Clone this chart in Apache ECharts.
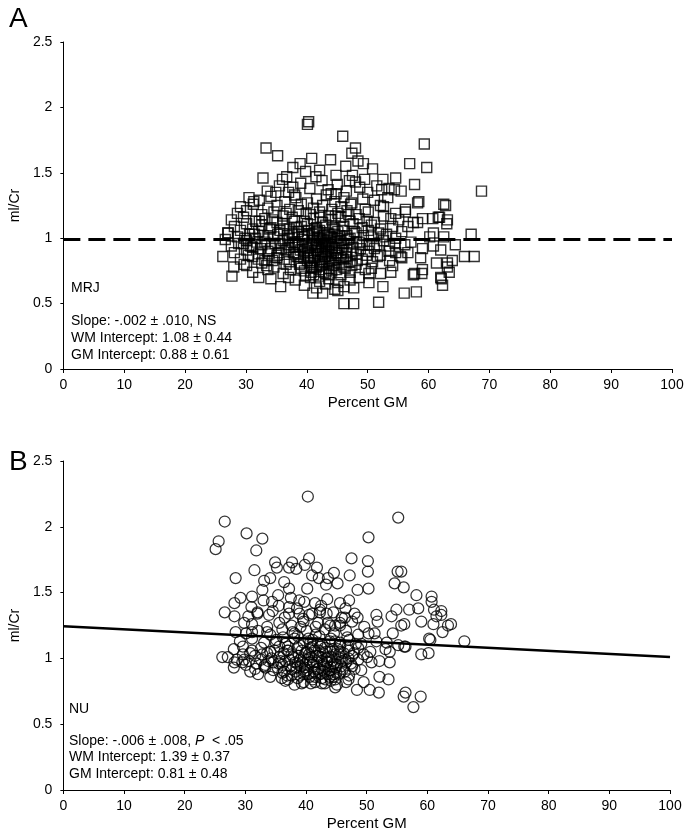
<!DOCTYPE html>
<html><head><meta charset="utf-8">
<script src="https://cdn.jsdelivr.net/npm/echarts@6/dist/echarts.min.js"></script>
<style>html,body{margin:0;padding:0;background:#fff}#c{width:695px;height:838px}</style>
</head><body><div id="c"></div>
<script>
// Panel A (MRJ) points: [Percent GM, mI/Cr]
var mrjPoints = [
[40.3,1.89],[40.1,1.87],[45.9,1.78],[59.3,1.72],[33.3,1.69],[35.2,1.63],[48.0,1.69],[47.4,1.65],[56.9,1.57],[59.7,1.54],
[32.8,1.46],[43.9,1.60],[40.8,1.61],[38.9,1.57],[42.1,1.52],[39.8,1.51],[37.7,1.54],[44.8,1.48],[46.4,1.55],[48.4,1.59],
[49.3,1.57],[50.8,1.53],[52.5,1.45],[54.6,1.46],[57.7,1.41],[62.5,1.26],[58.4,1.28],[36.7,1.47],[37.7,1.39],[47.0,1.44],
[48.7,1.39],[52.3,1.37],[54.4,1.37],[44.8,1.34],[34.9,1.35],[31.3,1.28],[68.7,1.36],[56.2,1.20],[59.0,1.15],[60.7,1.15],
[61.8,1.16],[63.0,1.11],[67.0,1.03],[64.4,0.95],[65.9,0.86],[67.5,0.86],[63.9,0.83],[63.4,0.74],[62.1,0.69],[62.3,0.64],
[58.9,0.73],[57.7,0.73],[56.0,0.58],[58.0,0.59],[61.3,0.81],[63.1,0.81],[60.8,0.94],[60.8,1.04],[60.2,1.01],[59.0,0.92],
[56.6,0.89],[56.6,1.09],[57.5,1.12],[46.1,0.50],[47.7,0.50],[51.8,0.51],[52.5,0.63],[35.7,0.63],[26.2,0.86],[27.7,0.71],
[27.0,1.04],[28.0,0.78],[29.7,0.80],[32.1,0.70],[37.0,0.70],[41.0,0.58],[42.6,0.58],[45.1,0.60],[47.7,0.62],[50.2,0.66],
[50.2,0.73],[53.8,0.74],[57.5,0.72],[59.0,0.76],[62.0,0.70],[63.1,0.78],[58.7,0.85],[55.4,0.86],[62.0,0.91],[62.5,1.01],
[61.6,1.16],[63.1,1.14],[58.2,1.12],[53.8,1.15],[56.2,1.22],[58.2,1.27],[62.8,1.25],[52.6,1.24],
[33.5,1.36],[35.5,1.40],[37.0,1.35],[39.0,1.42],[40.5,1.38],[42.5,1.44],[43.5,1.37],[45.0,1.41],[46.5,1.36],[48.0,1.43],
[50.0,1.35],[51.5,1.40],[53.5,1.38],[55.5,1.36],[36.0,1.45],[41.5,1.47],[38.0,1.33],[44.0,1.34],[47.5,1.48],[49.5,1.45],
[30.5,1.31],[32.2,1.29],[34.1,1.32],[36.4,1.28],[38.2,1.31],[40.1,1.27],[41.6,1.30],[43.2,1.33],[44.6,1.28],[46.1,1.31],
[47.4,1.27],[49.2,1.30],[51.1,1.29],[53.3,1.31],[29.1,1.24],[31.2,1.26],[33.6,1.23],[35.1,1.25],[37.2,1.22],[39.1,1.26],
[41.1,1.23],[42.6,1.25],[44.1,1.22],[45.6,1.24],[47.2,1.26],[49.6,1.22],[52.1,1.25],[28.6,1.19],[30.1,1.21],[32.6,1.18],
[34.6,1.20],[36.1,1.17],[38.6,1.21],[40.6,1.18],[42.1,1.20],[43.6,1.17],[45.1,1.19],[46.6,1.21],[48.1,1.18],[50.1,1.20],
[52.6,1.17],[54.6,1.19],[27.6,1.14],[29.6,1.16],[31.6,1.13],[33.1,1.15],[35.1,1.12],[37.6,1.16],[39.6,1.13],[41.1,1.15],
[42.6,1.12],[44.1,1.14],[45.6,1.16],[47.1,1.13],[48.6,1.15],[51.1,1.12],[55.1,1.14],[28.1,1.09],[30.1,1.11],[31.1,1.07],
[32.6,1.10],[34.1,1.08],[36.1,1.11],[37.1,1.07],[39.1,1.09],[40.1,1.11],[41.6,1.08],[43.1,1.10],[44.6,1.07],[46.1,1.09],
[47.6,1.11],[49.1,1.08],[50.6,1.10],[52.1,1.07],[54.1,1.09],[27.1,1.04],[29.1,1.06],[30.6,1.03],[32.1,1.05],[33.6,1.02],
[35.6,1.06],[37.6,1.03],[38.6,1.05],[40.1,1.02],[41.1,1.04],[42.1,1.06],[43.6,1.03],[45.1,1.05],[46.6,1.02],[48.1,1.04],
[50.1,1.06],[53.1,1.03],[55.6,1.05],[26.6,0.99],[28.6,1.01],[30.1,0.98],[31.6,1.00],[33.1,0.97],[34.6,1.01],[36.1,0.98],
[37.1,1.00],[38.1,0.97],[39.6,1.01],[41.1,0.98],[42.1,1.00],[43.1,0.97],[44.1,1.01],[45.6,0.98],[47.1,1.00],[48.6,0.97],
[50.6,1.01],[52.6,0.98],[54.6,1.00],[57.1,0.97],[27.6,0.94],[29.6,0.96],[31.1,0.93],[32.6,0.95],[34.1,0.92],[35.6,0.96],
[37.1,0.93],[38.6,0.95],[40.1,0.92],[41.6,0.96],[42.6,0.93],[43.6,0.95],[44.6,0.92],[46.1,0.96],[47.6,0.93],[49.1,0.95],
[51.1,0.92],[53.6,0.94],[56.1,0.95],[28.1,0.89],[30.1,0.91],[32.1,0.88],[33.6,0.90],[35.1,0.87],[36.6,0.91],[38.1,0.88],
[39.6,0.90],[40.6,0.87],[41.6,0.91],[42.6,0.88],[43.6,0.90],[45.1,0.87],[46.6,0.91],[48.1,0.88],[50.1,0.90],[52.1,0.87],
[54.6,0.89],[29.1,0.84],[31.1,0.86],[33.1,0.83],[35.1,0.85],[37.1,0.82],[38.6,0.86],[40.1,0.83],[41.1,0.85],[42.1,0.82],
[43.1,0.86],[44.1,0.83],[45.6,0.85],[47.1,0.82],[49.1,0.84],[51.6,0.86],[53.6,0.83],[55.6,0.85],[30.1,0.79],[32.6,0.81],
[34.6,0.78],[36.6,0.80],[39.1,0.77],[40.6,0.81],[41.6,0.78],[42.6,0.80],[43.6,0.77],[44.6,0.81],[46.1,0.78],[48.1,0.80],
[50.6,0.77],[54.1,0.79],[31.1,0.74],[33.6,0.76],[36.1,0.73],[39.6,0.75],[41.1,0.72],[42.1,0.76],[43.1,0.73],[44.1,0.75],
[45.6,0.72],[47.1,0.74],[49.6,0.76],[52.1,0.73],[34.1,0.69],[38.1,0.68],[40.6,0.70],[42.1,0.67],[43.6,0.69],[45.1,0.66],
[47.1,0.68],[48.6,0.70],[39.6,0.64],[41.6,0.62],[43.1,0.65],[44.6,0.61],[46.1,0.63],
[40.8,0.95],[41.8,0.88],[42.8,1.02],[43.8,0.84],[44.8,0.97],[45.8,0.91],[41.3,1.07],[42.3,0.79],[43.3,0.92],[44.3,1.08],
[45.3,0.81],[40.3,0.86],[39.3,0.99],[42.9,0.86],[43.9,1.01],[41.9,0.93],[44.9,0.89],[40.9,1.03],[42.4,0.96],[43.4,0.98],
[45.4,1.02],[46.4,0.86],[38.9,0.91],[37.9,1.04],[36.9,0.95],[35.4,0.89],[33.9,1.07],[32.4,0.92],[31.4,1.03],[30.4,0.87],
[36.3,0.84],[36.8,1.02],[37.3,0.76],[37.8,0.89],[38.3,1.08],[38.8,0.80],[39.3,0.94],[39.8,0.71],[40.3,1.06],[40.8,0.78],
[41.3,0.83],[41.8,1.01],[42.3,0.90],[42.8,0.74],[43.3,1.04],[43.8,0.95],[44.3,0.79],[44.8,0.85],[45.3,0.93],[45.8,1.06],
[46.3,0.77],[46.8,0.99],[47.3,0.88],[47.8,1.05],[48.3,0.83],[48.8,0.92],[49.3,1.02],[49.8,0.87],[50.3,0.95],[50.8,0.82],
[37.6,0.97],[38.4,0.86],[39.2,1.03],[40.0,0.96],[40.7,0.74],[41.4,0.94],[42.0,0.71],[42.7,0.99],[43.5,0.82],[44.2,0.93],
[44.9,0.76],[45.7,0.96],[46.5,0.89],[47.4,0.79],[48.2,0.97],[39.0,0.81],[40.2,0.89],[41.0,0.77],[42.9,0.94],[43.7,0.72],
[44.0,0.88],[45.0,1.00],[46.0,0.84],[41.7,1.05],[42.5,0.84],[43.1,0.89],[44.6,1.03],[40.5,0.93],[39.5,0.85],[38.0,0.93],
[35.8,0.92],[34.8,0.96],[33.8,0.88],[32.8,1.02],[31.8,0.97],[30.8,0.94],[29.8,1.00],[28.8,0.96],[36.2,1.07],[35.2,1.03],
[34.4,0.83],[33.4,0.79],[32.0,0.84],[51.5,0.95],[52.5,1.01],[53.5,0.90],[54.5,0.96],[51.8,1.04],[49.9,1.13],[46.9,1.18],
[44.7,1.17],[42.2,1.16],[39.9,1.19],[38.0,1.13],[36.6,1.19],[34.4,1.14],[32.2,1.13]
];
// Panel B (NU) points
var nuPoints = [
[40.3,2.23],[26.6,2.04],[25.6,1.89],[25.1,1.83],[30.2,1.95],[32.8,1.91],[31.8,1.82],[55.2,2.07],[50.3,1.92],[47.5,1.76],
[50.2,1.74],[50.2,1.66],[47.2,1.63],[50.3,1.53],[48.5,1.52],[31.5,1.67],[28.4,1.61],[34.9,1.73],[35.2,1.69],[37.7,1.73],
[37.2,1.69],[38.4,1.68],[40.5,1.76],[39.8,1.71],[41.8,1.69],[41.0,1.63],[42.1,1.61],[44.6,1.65],[43.6,1.61],[45.2,1.57],
[43.3,1.56],[40.2,1.53],[36.4,1.58],[33.1,1.59],[34.1,1.61],[32.8,1.52],[37.2,1.53],[35.4,1.48],[29.2,1.46],[28.2,1.42],
[31.1,1.47],[34.4,1.43],[38.9,1.44],[39.7,1.43],[37.2,1.39],[45.6,1.42],[47.1,1.44],[26.6,1.35],[28.2,1.32],[32.0,1.34],
[33.9,1.33],[38.9,1.34],[42.3,1.37],[43.4,1.34],[45.9,1.31],[48.0,1.34],[51.6,1.33],[54.1,1.32],[54.9,1.37],[54.6,1.57],
[55.1,1.66],[55.7,1.66],[56.1,1.54],[58.2,1.48],[60.7,1.47],[60.7,1.43],[57.0,1.37],[58.5,1.38],[62.3,1.36],[61.5,1.32],
[56.2,1.26],[59.0,1.28],[61.0,1.26],[63.9,1.26],[62.5,1.20],[60.5,1.14],[66.1,1.13],[56.4,1.09],[59.0,1.03],[60.2,1.04],
[56.4,0.74],[56.1,0.71],[58.9,0.71],[57.7,0.63],[26.2,1.01],[28.2,0.97],[29.5,0.97],[30.8,0.90],[33.3,0.93],[36.9,0.87],
[39.3,0.81],[41.5,0.82],[43.1,0.81],[44.8,0.78],[47.0,0.84],[48.4,0.76],[50.5,0.76],[52.0,0.74],[52.1,0.86],[53.6,0.84],
[49.5,0.82],[53.8,0.97],[53.8,1.05],[60.3,1.15],[55.2,1.10],[56.2,1.09],[51.3,1.19],[50.3,1.19],[53.3,1.12],[51.8,1.28],
[55.7,1.25],[54.3,1.19],[61.1,1.37],[62.3,1.33],[63.4,1.25],[45.6,1.27],[46.4,1.31],[44.8,1.25],[41.0,1.34],[42.3,1.35],
[37.2,1.34],[32.0,1.35],[29.8,1.27],[28.4,1.20],[31.1,1.20],[33.6,1.20],
[30.5,1.32],[34.5,1.36],[36.5,1.31],[38.5,1.38],[40.5,1.33],[42.5,1.40],[44.5,1.35],[46.5,1.38],[48.5,1.31],[39.5,1.30],
[35.5,1.40],[43.5,1.45],[41.5,1.42],[37.5,1.46],[33.0,1.44],[31.0,1.39],
[27.1,1.01],[28.6,0.99],[29.6,1.03],[30.6,0.98],[31.6,1.02],[32.6,0.99],[33.6,1.04],[34.6,0.97],[35.6,1.01],[36.6,0.98],
[37.6,1.03],[38.6,0.96],[39.6,1.00],[40.6,0.97],[41.6,1.02],[42.6,0.98],[43.6,1.01],[44.6,0.96],[45.6,1.00],[46.6,0.97],
[47.6,1.02],[48.6,0.99],[50.1,1.01],[52.1,0.98],[28.1,1.07],[29.6,1.09],[31.1,1.06],[32.6,1.08],[34.1,1.05],[35.6,1.09],
[37.1,1.06],[38.6,1.08],[40.1,1.05],[41.1,1.09],[42.1,1.06],[43.1,1.08],[44.1,1.05],[45.6,1.09],[47.1,1.06],[48.6,1.08],
[50.6,1.05],[53.1,1.07],[29.1,1.13],[31.1,1.15],[33.1,1.12],[35.1,1.14],[36.6,1.11],[38.1,1.15],[39.6,1.12],[41.1,1.14],
[42.6,1.11],[44.1,1.15],[45.6,1.12],[47.1,1.14],[49.1,1.11],[51.6,1.13],[30.1,1.19],[32.1,1.21],[34.1,1.18],[36.1,1.22],
[38.1,1.19],[40.1,1.21],[41.6,1.18],[43.1,1.22],[44.6,1.19],[46.6,1.21],[48.6,1.18],[31.1,1.26],[33.6,1.24],[35.6,1.27],
[37.6,1.25],[39.6,1.28],[41.6,1.24],[43.6,1.27],[45.6,1.25],[47.6,1.28],[49.6,1.24],[28.1,0.93],[30.1,0.95],[31.6,0.92],
[33.1,0.94],[34.6,0.91],[36.1,0.95],[37.6,0.92],[39.1,0.94],[40.1,0.91],[41.1,0.95],[42.1,0.92],[43.1,0.94],[44.1,0.91],
[45.1,0.95],[46.1,0.92],[47.6,0.94],[49.1,0.91],[32.1,0.88],[34.1,0.86],[36.1,0.89],[37.6,0.87],[38.6,0.85],[39.6,0.88],
[40.6,0.86],[41.6,0.89],[42.6,0.85],[43.6,0.88],[44.6,0.86],[45.6,0.89],[47.1,0.87],[36.6,0.83],[38.1,0.80],[39.6,0.82],
[41.1,0.84],[42.6,0.81],[44.1,0.83],[45.1,0.80],[46.6,0.82],
[38.8,1.02],[39.8,0.93],[40.8,1.08],[41.8,0.97],[42.8,1.04],[43.8,0.91],[44.8,1.03],[45.8,0.94],[40.3,0.99],[41.3,0.90],
[42.3,1.01],[43.3,1.05],[44.3,0.98],[39.3,1.06],[38.3,0.90],[37.3,0.99],[36.3,1.04],[35.3,0.93],[34.3,1.00],[33.3,0.95],
[41.9,1.12],[43.9,1.13],[40.4,1.15],[45.2,1.07],[46.2,1.04],[42.4,0.88],[44.5,0.88],[39.0,0.87],[37.0,1.09],[35.0,1.12],
[35.8,0.98],[36.4,0.90],[36.9,1.06],[37.4,0.94],[37.9,1.01],[38.4,0.93],[38.9,1.10],[39.4,0.97],[39.9,1.04],[40.4,0.88],
[40.9,1.01],[41.4,1.06],[41.9,0.92],[42.4,1.09],[42.9,0.95],[43.4,1.00],[43.9,0.86],[44.4,1.07],[44.9,0.93],[45.4,1.03],
[45.9,0.98],[46.4,0.90],[46.9,1.09],[47.4,0.96],[47.9,1.04],[38.2,0.97],[39.0,0.99],[39.7,0.90],[40.5,1.03],[41.2,0.97],
[42.0,1.02],[42.7,0.91],[43.5,0.97],[44.2,1.01],[45.0,0.89],[45.7,1.05],[46.5,0.99],[40.0,0.95],[41.5,0.86],[43.0,0.90],
[44.0,0.94],[34.8,1.06],[33.8,0.98],[32.8,1.03],[31.8,0.96],[30.8,1.04],[29.8,0.99],[35.5,0.96],[36.2,1.16],[38.6,1.17],
[40.7,1.12],[42.2,1.17],[44.8,1.13],[46.8,1.16],[48.2,1.11],[37.8,1.20],[39.1,1.24],[42.0,1.27],[44.0,1.25],[47.0,1.00],
[48.0,0.92],[49.5,1.03],[50.8,0.97],[36.0,0.85],[37.0,0.84],[40.8,0.81],[43.2,0.84],[44.8,0.84]
];
// Fitted lines (endpoints at x = 0 and x = 100)
var mrjLine = [[0,0.99],[100,0.99]];
var nuLine = [[0,1.245],[100,1.01]];
var yTicks = [0, 0.5, 1, 1.5, 2, 2.5];
var xTicks = [0,10,20,30,40,50,60,70,80,90,100];

var FONT = '"Liberation Sans", Arial, sans-serif';
function xAxis(gi){
  return {gridIndex:gi,type:'value',min:0,max:100,interval:10,
    name:'Percent GM',nameLocation:'middle',nameGap:26,
    nameTextStyle:{fontFamily:FONT,fontSize:15,color:'#000'},
    axisLine:{lineStyle:{color:'#000',width:1}},
    axisTick:{show:true,length:4,lineStyle:{color:'#000'}},
    axisLabel:{fontFamily:FONT,fontSize:14,color:'#000',margin:9},
    splitLine:{show:false}};
}
function yAxis(gi){
  return {gridIndex:gi,type:'value',min:0,max:2.5,interval:0.5,
    name:'ml/Cr',nameLocation:'middle',nameGap:38,nameRotate:90,
    nameTextStyle:{fontFamily:FONT,fontSize:14,color:'#000'},
    axisLine:{show:true,lineStyle:{color:'#000',width:1}},
    axisTick:{show:true,length:3,lineStyle:{color:'#000'}},
    axisLabel:{fontFamily:FONT,fontSize:14,color:'#000',margin:11},
    splitLine:{show:false}};
}
var chart = echarts.init(document.getElementById('c'),null,{renderer:'canvas'});
chart.setOption({
  animation:false,
  backgroundColor:'#fff',
  grid:[{left:62,top:42,width:610,height:327},{left:60,top:461,width:610,height:329}],
  xAxis:[xAxis(0),xAxis(1)],
  yAxis:[yAxis(0),yAxis(1)],
  series:[
    {type:'scatter',xAxisIndex:0,yAxisIndex:0,data:mrjPoints,symbol:'rect',symbolSize:10,
     itemStyle:{color:'rgba(0,0,0,0)',borderColor:'#000',borderWidth:1.4},z:2},
    {type:'line',xAxisIndex:0,yAxisIndex:0,data:mrjLine,symbol:'none',
     lineStyle:{color:'#000',width:3,type:[17,8]},z:3},
    {type:'scatter',xAxisIndex:1,yAxisIndex:1,data:nuPoints,symbol:'circle',symbolSize:11,
     itemStyle:{color:'rgba(0,0,0,0)',borderColor:'#000',borderWidth:1.25},z:2},
    {type:'line',xAxisIndex:1,yAxisIndex:1,data:nuLine,symbol:'none',
     lineStyle:{color:'#000',width:2.5},z:3}
  ],
  graphic:[
    {type:'text',left:9,top:5,style:{text:'A',font:'28px '+FONT,fill:'#000'}},
    {type:'text',left:9,top:448,style:{text:'B',font:'28px '+FONT,fill:'#000'}},
    {type:'text',left:71,top:281,style:{text:'MRJ',font:'14px '+FONT,fill:'#000'}},
    {type:'text',left:71,top:314,style:{text:'Slope: -.002 \u00b1 .010, NS',font:'14px '+FONT,fill:'#000'}},
    {type:'text',left:71,top:331,style:{text:'WM Intercept: 1.08 \u00b1 0.44',font:'14px '+FONT,fill:'#000'}},
    {type:'text',left:71,top:348,style:{text:'GM Intercept: 0.88 \u00b1 0.61',font:'14px '+FONT,fill:'#000'}},
    {type:'text',left:69,top:702,style:{text:'NU',font:'14px '+FONT,fill:'#000'}},
    {type:'text',left:69,top:734,style:{text:'{n|Slope: -.006 \u00b1 .008, }{i|P}{n|  < .05}',
      rich:{n:{font:'14px '+FONT,fill:'#000'},i:{font:'italic 14px '+FONT,fill:'#000'}}}},
    {type:'text',left:69,top:750,style:{text:'WM Intercept: 1.39 \u00b1 0.37',font:'14px '+FONT,fill:'#000'}},
    {type:'text',left:69,top:767,style:{text:'GM Intercept: 0.81 \u00b1 0.48',font:'14px '+FONT,fill:'#000'}}
  ]
});
</script></body></html>
